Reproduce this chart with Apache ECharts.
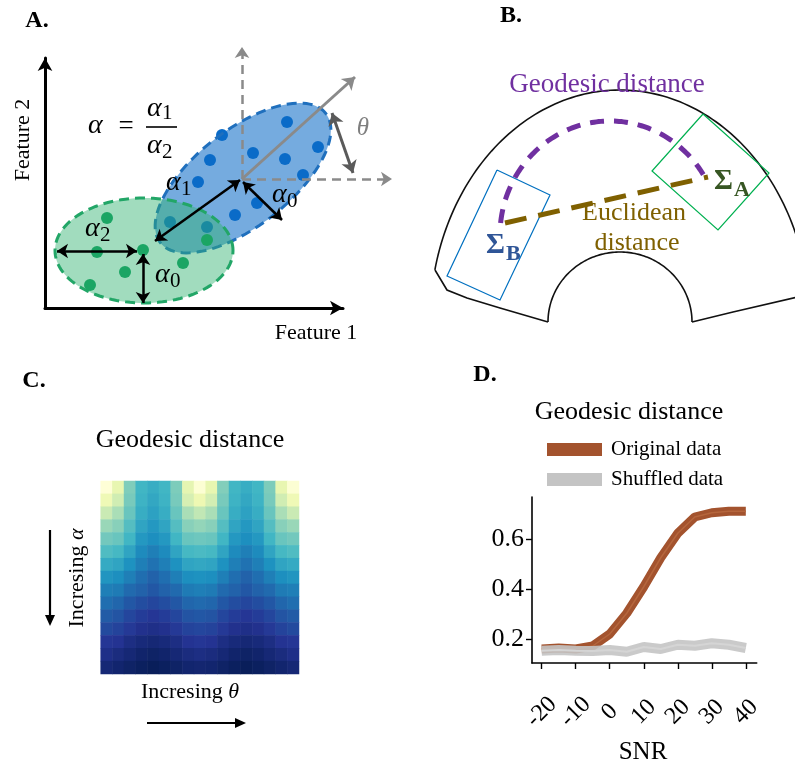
<!DOCTYPE html>
<html><head><meta charset="utf-8">
<script src="https://cdn.jsdelivr.net/npm/echarts@6/dist/echarts.min.js"></script>
<style>html,body{margin:0;padding:0;background:#fff}#c{width:795px;height:765px}</style>
</head><body><div id="c"></div><script>
// ---------- Panel D data ----------
const snr = [-20, -15, -10, -5, 0, 5, 10, 15, 20, 25, 30, 35, 40];
const originalData = [0.160, 0.164, 0.160, 0.172, 0.220, 0.303, 0.409, 0.525, 0.623, 0.688, 0.705, 0.711, 0.711];
const shuffledData = [0.153, 0.156, 0.153, 0.152, 0.156, 0.149, 0.168, 0.160, 0.177, 0.173, 0.183, 0.177, 0.164];
const snrTicks = [-20, -10, 0, 10, 20, 30, 40];
const distTicks = [0.2, 0.4, 0.6];

// ---------- Panel C data (rows: increasing alpha, cols: increasing theta) ----------
const heatRows = [
 [0.01,0.14,0.375,0.50,0.53,0.50,0.38,0.15,0.02,0.14,0.37,0.50,0.53,0.50,0.38,0.14,0.02],
 [0.11,0.22,0.39,0.51,0.55,0.51,0.39,0.20,0.12,0.21,0.39,0.51,0.55,0.51,0.39,0.22,0.11],
 [0.24,0.30,0.42,0.53,0.57,0.53,0.42,0.30,0.26,0.30,0.42,0.53,0.57,0.53,0.42,0.30,0.24],
 [0.33,0.36,0.46,0.56,0.60,0.56,0.46,0.36,0.34,0.36,0.46,0.56,0.60,0.56,0.46,0.36,0.33],
 [0.40,0.42,0.50,0.60,0.63,0.60,0.50,0.42,0.41,0.42,0.50,0.60,0.63,0.60,0.50,0.42,0.40],
 [0.47,0.49,0.56,0.64,0.67,0.64,0.56,0.49,0.48,0.49,0.56,0.64,0.67,0.64,0.56,0.49,0.47],
 [0.54,0.56,0.62,0.67,0.70,0.67,0.62,0.56,0.55,0.56,0.62,0.67,0.70,0.67,0.62,0.56,0.54],
 [0.61,0.63,0.67,0.71,0.74,0.71,0.67,0.63,0.62,0.63,0.67,0.71,0.74,0.71,0.67,0.63,0.61],
 [0.67,0.68,0.72,0.74,0.77,0.74,0.72,0.68,0.67,0.68,0.72,0.74,0.77,0.74,0.72,0.68,0.67],
 [0.71,0.73,0.77,0.80,0.82,0.80,0.77,0.73,0.72,0.73,0.77,0.80,0.82,0.80,0.77,0.73,0.71],
 [0.76,0.78,0.82,0.85,0.87,0.85,0.82,0.78,0.77,0.78,0.82,0.85,0.87,0.85,0.82,0.78,0.76],
 [0.81,0.83,0.86,0.89,0.90,0.89,0.86,0.83,0.82,0.83,0.86,0.89,0.90,0.89,0.86,0.83,0.81],
 [0.87,0.88,0.91,0.93,0.94,0.93,0.91,0.88,0.87,0.88,0.91,0.93,0.94,0.93,0.91,0.88,0.87],
 [0.90,0.92,0.94,0.96,0.97,0.96,0.94,0.92,0.91,0.92,0.94,0.96,0.97,0.96,0.94,0.92,0.90],
 [0.94,0.955,0.97,0.985,0.995,0.985,0.97,0.955,0.95,0.955,0.97,0.985,0.995,0.985,0.97,0.955,0.94]
];
const thetaBins = heatRows[0].map((_, i) => 'θ' + i);
const alphaBins = heatRows.map((_, i) => 'α' + i);

// ---------- Panel A data (feature space units) ----------
const blueCluster = [[24.2,18.6],[17.7,17.3],[16.5,14.8],[20.8,15.5],[27.3,16.1],[24.0,14.9],[15.3,12.6],[25.8,13.3],[21.2,10.5],[19.0,9.3],[16.2,8.1],[12.5,8.6]];
const greenCluster = [[6.2,9.0],[5.2,5.6],[9.8,5.8],[8.0,3.6],[4.5,2.3],[13.8,4.5],[16.2,6.8]];
// [cx, cy, semi-major, semi-minor, angle deg]
const blueEllipse = [19.8, 13.0, 10.5, 4.8, 38];
const greenEllipse = [9.9, 5.75, 8.9, 5.25, 0];
const spreadArrows = [
  [[1.2,5.7],[9.2,5.7]],
  [[9.8,5.4],[9.8,0.5]],
  [[11.0,6.7],[19.5,12.8]],
  [[19.8,12.6],[23.7,8.8]]
];
const localAxes = [[[19.7,12.9],[19.7,26.1]], [[19.7,12.9],[34.7,12.9]]];
const orientationArrow = [[19.7,12.9],[31.0,23.1]];
const thetaArrow = [[28.7,19.5],[30.8,13.5]];

// ---------- Panel B data ----------
// [cx, cy, rx, ry, startDeg, endDeg]
const outerArc = [22.0, 0.8, 19.0, 23.2, 167, 8];
const innerArc = [22.0, 0.8, 7.2, 7.0, 180, 0];
const geodesicArc = [21.0, 9.5, 11.0, 11.4, 174, 32];
const manifoldEdges = [
  [[3.5,6.0],[4.7,4.0],[6.7,3.2],[10.0,2.2],[14.8,0.8]],
  [[29.2,0.8],[33.3,1.8],[39.8,3.3]]
];
const sigmaBBox = [[9.7,16.0],[15.0,13.5],[10.0,3.0],[4.7,5.4],[9.7,16.0]];
const sigmaABox = [[30.3,21.6],[36.9,15.7],[31.8,10.0],[25.2,15.9],[30.3,21.6]];
const euclidLine = [[10.5,10.7],[30.8,15.3]];

const SERIF = '"Liberation Serif","DejaVu Serif",serif';
const YLGNBU = ['#ffffd9','#edf8b1','#c7e9b4','#7fcdbb','#41b6c4','#1d91c0','#225ea8','#253494','#081d58'];

function ellipseRender(style) {
  return function (params, api) {
    const cx = api.value(0), cy = api.value(1), a = api.value(2), b = api.value(3), ang = api.value(4) * Math.PI / 180;
    const pts = [];
    for (let i = 0; i <= 120; i++) {
      const t = i / 120 * 2 * Math.PI;
      const x = cx + a * Math.cos(t) * Math.cos(ang) - b * Math.sin(t) * Math.sin(ang);
      const y = cy + a * Math.cos(t) * Math.sin(ang) + b * Math.sin(t) * Math.cos(ang);
      pts.push(api.coord([x, y]));
    }
    return { type: 'polygon', shape: { points: pts }, style: style };
  };
}
function arcRender(style) {
  return function (params, api) {
    const cx = api.value(0), cy = api.value(1), rx = api.value(2), ry = api.value(3), a0 = api.value(4), a1 = api.value(5);
    const pts = [];
    const n = 120;
    for (let i = 0; i <= n; i++) {
      const t = (a0 + (a1 - a0) * i / n) * Math.PI / 180;
      pts.push(api.coord([cx + rx * Math.cos(t), cy + ry * Math.sin(t)]));
    }
    return { type: 'polyline', shape: { points: pts }, style: Object.assign({ fill: null }, style) };
  };
}
function linesSeries(idx, data, lineStyle, symbol, symbolSize, polyline) {
  return { type: 'lines', coordinateSystem: 'cartesian2d', xAxisIndex: idx, yAxisIndex: idx, polyline: !!polyline,
    clip: false, silent: true, symbol: symbol || 'none', symbolSize: symbolSize || 10,
    lineStyle: Object.assign({ opacity: 1, curveness: 0 }, lineStyle),
    data: data.map(c => ({ coords: c })) };
}
function txt(x, y, text, size, opts) {
  opts = opts || {};
  const style = { text: text, fontSize: size, fontFamily: opts.family || SERIF, fontStyle: opts.italic ? 'italic' : 'normal',
      fontWeight: opts.bold ? 'bold' : 'normal', fill: opts.color || '#000', align: opts.align || 'center', verticalAlign: 'middle' };
  if (opts.rich) style.rich = opts.rich;
  return { type: 'text', x: x, y: y, rotation: opts.rotation || 0, z: 100, style: style };
}
function subTxt(x, y, base, sub, size, color, subDx, subDy, bold) {
  return [
    txt(x, y, base, size, { italic: !bold, bold: bold, color: color, align: 'left' }),
    txt(x + subDx, y + subDy, sub, Math.round(size * 0.76), { color: color, align: 'left', bold: bold })
  ];
}
function arrowGraphic(x1, y1, x2, y2, w) {
  const ang = Math.atan2(y2 - y1, x2 - x1), L = 11, H = 5;
  const bx = x2 - L * Math.cos(ang), by = y2 - L * Math.sin(ang);
  return [
    { type: 'line', shape: { x1: x1, y1: y1, x2: bx, y2: by }, style: { stroke: '#000', lineWidth: w } },
    { type: 'polygon', shape: { points: [[x2, y2], [bx - H * Math.sin(ang), by + H * Math.cos(ang)], [bx + H * Math.sin(ang), by - H * Math.cos(ang)]] }, style: { fill: '#000' } }
  ];
}
const greekRich = { n: { fontFamily: SERIF, fontSize: 22 }, g: { fontFamily: SERIF, fontSize: 22, fontStyle: 'italic' } };

const heatData = [];
heatRows.forEach((row, r) => row.forEach((v, c) => heatData.push([c, r, v])));

const hiddenAxis = { show: false };
const option = {
  backgroundColor: '#fff',
  animation: false,
  grid: [
    { left: 45, top: 58, width: 298, height: 250 },
    { left: 400, top: 0, width: 395, height: 330 },
    { left: 100.7, top: 481, width: 198.3, height: 193 },
    { left: 532, top: 497, width: 224.7, height: 166 }
  ],
  xAxis: [
    { gridIndex: 0, type: 'value', min: 0, max: 29.8, splitLine: { show: false }, axisTick: { show: false }, axisLabel: { show: false },
      axisLine: { show: true, symbol: ['none', 'arrow'], symbolSize: [11, 13], lineStyle: { color: '#000', width: 3 } } },
    Object.assign({ gridIndex: 1, type: 'value', min: 0, max: 39.5 }, hiddenAxis),
    { gridIndex: 2, type: 'category', data: thetaBins, show: false },
    { gridIndex: 3, type: 'value', min: -22.85, max: 43.2, splitLine: { show: false },
      axisLine: { show: true, onZero: false, lineStyle: { color: '#000', width: 1.6 } },
      axisTick: { show: true, length: 6, customValues: snrTicks, lineStyle: { color: '#000', width: 1.4 } },
      axisLabel: { customValues: snrTicks, rotate: 45, align: 'center', verticalAlign: 'middle', margin: 49,
        fontFamily: SERIF, fontSize: 24, color: '#000' } }
  ],
  yAxis: [
    { gridIndex: 0, type: 'value', min: 0, max: 25, splitLine: { show: false }, axisTick: { show: false }, axisLabel: { show: false },
      axisLine: { show: true, symbol: ['none', 'arrow'], symbolSize: [11, 13], lineStyle: { color: '#000', width: 3 } } },
    Object.assign({ gridIndex: 1, type: 'value', min: 0, max: 33 }, hiddenAxis),
    { gridIndex: 2, type: 'category', data: alphaBins, inverse: true, show: false },
    { gridIndex: 3, type: 'value', min: 0.104, max: 0.768, splitLine: { show: false },
      axisLine: { show: true, onZero: false, lineStyle: { color: '#000', width: 1.6 } },
      axisTick: { show: true, length: 6, customValues: distTicks, lineStyle: { color: '#000', width: 1.4 } },
      axisLabel: { customValues: distTicks, formatter: v => v.toFixed(1), margin: 8, fontFamily: SERIF, fontSize: 26, color: '#000' } }
  ],
  visualMap: { show: false, min: 0, max: 1, dimension: 2, seriesIndex: 0, inRange: { color: YLGNBU } },
  legend: {
    data: ['Original data', 'Shuffled data'], orient: 'vertical', left: 542, top: 434, itemWidth: 55, itemHeight: 13, itemGap: 9,
    icon: 'rect', selectedMode: false, textStyle: { fontFamily: SERIF, fontSize: 21, color: '#000', padding: [0, 0, 0, 4] }
  },
  series: [
    { type: 'heatmap', xAxisIndex: 2, yAxisIndex: 2, data: heatData, itemStyle: { borderWidth: 0 }, emphasis: { disabled: true } },
    // Panel A
    { type: 'custom', xAxisIndex: 0, yAxisIndex: 0, data: [blueEllipse], silent: true, z: 2,
      renderItem: ellipseRender({ fill: '#75abdf', stroke: null }) },
    { type: 'scatter', xAxisIndex: 0, yAxisIndex: 0, data: blueCluster, symbolSize: 12, itemStyle: { color: '#0a6bc8', opacity: 1 }, silent: true, z: 3 },
    { type: 'custom', xAxisIndex: 0, yAxisIndex: 0, data: [blueEllipse], silent: true, z: 4,
      renderItem: ellipseRender({ fill: null, stroke: '#1f6fbd', lineWidth: 3, lineDash: [10, 6] }) },
    { type: 'custom', xAxisIndex: 0, yAxisIndex: 0, data: [greenEllipse], silent: true, z: 5,
      renderItem: ellipseRender({ fill: 'rgba(46,178,110,0.45)', stroke: '#22a667', lineWidth: 3, lineDash: [10, 6] }) },
    { type: 'scatter', xAxisIndex: 0, yAxisIndex: 0, data: greenCluster, symbolSize: 12, itemStyle: { color: '#1ba564', opacity: 1 }, silent: true, z: 6 },
    Object.assign(linesSeries(0, localAxes, { color: '#8a8a8a', width: 2.5, type: [9, 6] }, ['none', 'arrow'], 11), { z: 7 }),
    Object.assign(linesSeries(0, [orientationArrow], { color: '#8a8a8a', width: 3 }, ['none', 'arrow'], 12), { z: 7 }),
    Object.assign(linesSeries(0, [thetaArrow], { color: '#5a5a5a', width: 3 }, ['arrow', 'arrow'], 12), { z: 7 }),
    Object.assign(linesSeries(0, spreadArrows, { color: '#000', width: 2.5 }, ['arrow', 'arrow'], 11), { z: 8 }),
    // Panel B
    { type: 'custom', xAxisIndex: 1, yAxisIndex: 1, data: [outerArc, innerArc], silent: true,
      renderItem: arcRender({ stroke: '#111', lineWidth: 1.6 }) },
    Object.assign(linesSeries(1, manifoldEdges, { color: '#111', width: 1.6 }, 'none', 1, true), {}),
    Object.assign(linesSeries(1, [sigmaBBox], { color: '#0070c0', width: 1.2 }, 'none', 1, true), {}),
    Object.assign(linesSeries(1, [sigmaABox], { color: '#00b050', width: 1.2 }, 'none', 1, true), {}),
    { type: 'custom', xAxisIndex: 1, yAxisIndex: 1, data: [geodesicArc], silent: true, z: 5,
      renderItem: arcRender({ stroke: '#7030a0', lineWidth: 5, lineDash: [14, 10] }) },
    Object.assign(linesSeries(1, [euclidLine], { color: '#7f6000', width: 5, type: [22, 12] }, 'none', 1), { z: 5 }),
    // Panel D
    { name: 'Original data', type: 'line', xAxisIndex: 3, yAxisIndex: 3, data: snr.map((s, i) => [s, originalData[i]]),
      showSymbol: false, symbol: 'none', color: '#a3532e', lineStyle: { width: 9, color: '#a3532e' }, itemStyle: { color: '#a3532e' }, z: 2, silent: true },
    { name: 'orig-mean', type: 'line', xAxisIndex: 3, yAxisIndex: 3, data: snr.map((s, i) => [s, originalData[i]]),
      showSymbol: false, symbol: 'none', lineStyle: { width: 1.5, color: '#b5663d' }, z: 3, silent: true },
    { name: 'Shuffled data', type: 'line', xAxisIndex: 3, yAxisIndex: 3, data: snr.map((s, i) => [s, shuffledData[i]]),
      showSymbol: false, symbol: 'none', color: '#c4c4c4', lineStyle: { width: 10, color: '#c4c4c4', opacity: 0.9 }, itemStyle: { color: '#c4c4c4' }, z: 4, silent: true },
    { name: 'shuf-mean', type: 'line', xAxisIndex: 3, yAxisIndex: 3, data: snr.map((s, i) => [s, shuffledData[i]]),
      showSymbol: false, symbol: 'none', lineStyle: { width: 2, color: '#d5d5d5' }, z: 5, silent: true }
  ],
  graphic: [].concat(
    [
      txt(37, 21, 'A.', 24, { bold: true }),
      txt(511, 16, 'B.', 24, { bold: true }),
      txt(34, 381, 'C.', 24, { bold: true }),
      txt(485, 375, 'D.', 24, { bold: true }),
      // Panel A text
      txt(23, 140, 'Feature 2', 22, { rotation: Math.PI / 2 }),
      txt(316, 333, 'Feature 1', 22),
      txt(88, 126, 'α', 28, { italic: true, align: 'left' }),
      txt(126, 127, '=', 27),
      { type: 'line', shape: { x1: 146, y1: 127, x2: 177, y2: 127 }, style: { stroke: '#000', lineWidth: 1.6 } },
      txt(363, 128, 'θ', 25, { italic: true, color: '#7f7f7f' }),
      // Panel B text
      txt(607, 85, 'Geodesic distance', 27, { color: '#7030a0' }),
      txt(634, 213, 'Euclidean', 26, { color: '#7f6000' }),
      txt(637, 243, 'distance', 26, { color: '#7f6000' }),
      // Panel C text
      txt(190, 440, 'Geodesic distance', 26),
      txt(77, 578, '{n|Incresing }{g|α}', 22, { rotation: Math.PI / 2, rich: greekRich }),
      txt(190, 692, '{n|Incresing }{g|θ}', 22, { rich: greekRich }),
      // Panel D text
      txt(629, 412, 'Geodesic distance', 26),
      txt(643, 752, 'SNR', 25)
    ],
    subTxt(147, 109, 'α', '1', 28, '#000', 15, 4),
    subTxt(147, 146, 'α', '2', 28, '#000', 15, 6),
    subTxt(85, 229, 'α', '2', 28, '#000', 15, 6),
    subTxt(155, 275, 'α', '0', 28, '#000', 15, 6),
    subTxt(166, 183, 'α', '1', 28, '#000', 15, 6),
    subTxt(272, 195, 'α', '0', 28, '#000', 15, 6),
    subTxt(486, 246, 'Σ', 'B', 29, '#2f5597', 20, 8, true),
    subTxt(714, 182, 'Σ', 'A', 29, '#375623', 20, 8, true),
    arrowGraphic(50, 530, 50, 626, 2.2),
    arrowGraphic(147, 723, 246, 723, 2.2)
  )
};
const chart = echarts.init(document.getElementById('c'), null, { renderer: 'canvas', width: 795, height: 765 });
chart.setOption(option);
</script></body></html>
